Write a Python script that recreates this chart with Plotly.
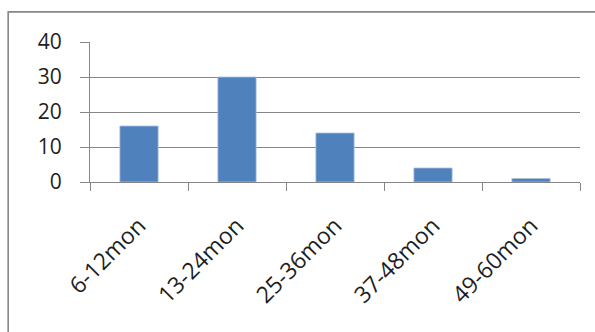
import plotly.graph_objects as go

# Age groups and counts
categories = ["6-12mon", "13-24mon", "25-36mon", "37-48mon", "49-60mon"]
counts = [16, 30, 14, 4, 1]
y_ticks = [0, 10, 20, 30, 40]

GRID = "#868686"
FAMILY = "Open Sans, Liberation Sans, sans-serif"
Y_FONT = dict(family=FAMILY, size=21, color="#1e1e1e")
X_FONT = dict(family=FAMILY, size=23, color="#1e1e1e")

fig = go.Figure(
    go.Bar(
        x=categories,
        y=counts,
        marker=dict(color="#4F81BD", line=dict(color="#a9c0e0", width=0.8)),
    )
)

fig.update_layout(
    width=595,
    height=332,
    margin=dict(l=90, r=15, t=42, b=150),
    paper_bgcolor="white",
    plot_bgcolor="white",
    bargap=0.61,
    showlegend=False,
    font=Y_FONT,
    shapes=[
        dict(
            type="rect", xref="paper", yref="paper",
            x0=-0.167, x1=1.05, y0=-1.2, y1=1.215,
            line=dict(color="#878787", width=1.6),
            fillcolor="rgba(0,0,0,0)", layer="below",
        )
    ],
)

fig.update_xaxes(
    type="category",
    tickangle=-45,
    showline=True, linecolor=GRID, linewidth=1,
    ticks="outside", ticklen=8, tickcolor=GRID, tickwidth=1,
    tickson="boundaries",
    showgrid=False,
    tickfont=X_FONT,
    ticklabelstandoff=20,
)

fig.update_yaxes(
    range=[0, 40],
    tickvals=y_ticks,
    showline=True, linecolor=GRID, linewidth=1,
    ticks="outside", ticklen=9, tickcolor=GRID, tickwidth=1,
    showgrid=True, gridcolor=GRID, gridwidth=1,
    zeroline=False,
    tickfont=Y_FONT,
    ticklabelstandoff=14,
)

fig.write_html("out.html")
